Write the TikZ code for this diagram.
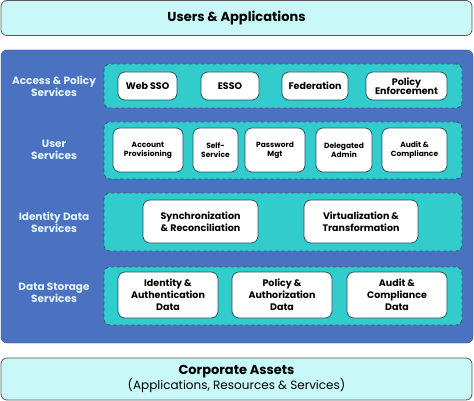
\documentclass[tikz,border=0pt]{standalone}
\usepackage{fontspec}
\setmainfont{Poppins}
\usetikzlibrary{positioning}

\definecolor{paleCyan}{HTML}{C8F8F8}
\definecolor{coreBlue}{HTML}{4A72C0}
\definecolor{bandTeal}{HTML}{33CCCC}
\definecolor{bandEdge}{HTML}{1D6475}
\definecolor{lblText}{HTML}{E4F4FF}

\tikzset{
  outer/.style={draw=gray!70!black,fill=paleCyan,rounded corners=6pt,line width=0.8pt,inner sep=0pt},
  band/.style={draw=bandEdge,fill=bandTeal,dashed,rounded corners=6pt,line width=0.9pt,minimum width=358pt,inner sep=0pt},
  item/.style={draw=bandEdge!80!black,fill=white,rounded corners=7pt,line width=0.7pt,align=center,inner sep=0pt,font=\bfseries},
  lbl/.style={text=lblText,align=center,font=\fontsize{10.5}{12}\selectfont\bfseries}
}

\begin{document}
\begin{tikzpicture}[x=1pt,y=1pt]
  \useasboundingbox (0,0) rectangle (474,-401);

  \node [outer,minimum width=471pt,minimum height=35pt,font=\fontsize{13}{15}\selectfont\bfseries] (users) at (236.5,-18) {Users \& Applications};
  \node [fill=coreBlue,draw=coreBlue!70!black,rounded corners=6pt,minimum width=472pt,minimum height=293pt,inner sep=0pt] (core) at (237,-196.5) {};
  \node [outer,minimum width=471pt,minimum height=42pt,align=center] (assets) at (236.5,-379)
    {{\fontsize{13}{15}\selectfont\bfseries Corporate Assets}\\[-1pt]{\fontsize{12}{14}\selectfont (Applications, Resources \& Services)}};

  % service bands
  \node [band,minimum height=44pt] (access) at (283,-86) {};
  \node [band,minimum height=57pt] (user) at (283,-150.5) {};
  \node [band,minimum height=58pt] (idata) at (283,-222) {};
  \node [band,minimum height=58pt] (store) at (283,-296) {};

  \node [lbl] (accessL) at (54,-86) {Access \& Policy\\Services};
  \node [lbl] (userL) at (54,-150) {User\\Services};
  \node [lbl] (idataL) at (54,-222) {Identity Data\\Services};
  \node [lbl] (storeL) at (54,-293) {Data Storage\\Services};

  % access & policy
  \begin{scope}[every node/.append style={item,minimum height=28pt,font=\fontsize{9.5}{11}\selectfont\bfseries}]
    \node [minimum width=59pt] (websso) at (147.5,-86) {Web SSO};
    \node [minimum width=58pt] (esso) at (230,-86) {ESSO};
    \node [minimum width=66pt] (fed) at (315,-86) {Federation};
    \node [minimum width=81pt] (enforce) at (406.5,-86) {Policy\\[-2pt]Enforcement};
  \end{scope}

  % user services
  \begin{scope}[every node/.append style={item,minimum height=44pt,font=\fontsize{7.5}{9}\selectfont\bfseries}]
    \node [minimum width=70pt] (prov) at (148,-150) {Account\\Provisioning};
    \node [minimum width=45pt] (self) at (215.5,-150) {Self-\\Service};
    \node [minimum width=60pt] (pwd) at (275,-150) {Password\\Mgt};
    \node [minimum width=56pt] (deleg) at (344,-150) {Delegated\\Admin};
    \node [minimum width=65pt] (audit) at (414.5,-150) {Audit \&\\Compliance};
  \end{scope}

  % identity data
  \begin{scope}[every node/.append style={item,minimum height=43pt,font=\fontsize{9.5}{12}\selectfont\bfseries}]
    \node [minimum width=115pt] (sync) at (200.5,-221.5) {Synchronization\\\& Reconciliation};
    \node [minimum width=114pt] (virt) at (361,-221.5) {Virtualization \&\\Transformation};
  \end{scope}

  % data storage
  \begin{scope}[every node/.append style={item,minimum height=46pt,minimum width=100pt,font=\fontsize{9.5}{12}\selectfont\bfseries}]
    \node (iddata) at (168,-295) {Identity \&\\Authentication\\Data};
    \node (poldata) at (282,-295) {Policy \&\\Authorization\\Data};
    \node (auddata) at (397,-295) {Audit \&\\Compliance\\Data};
  \end{scope}
\end{tikzpicture}
\end{document}
